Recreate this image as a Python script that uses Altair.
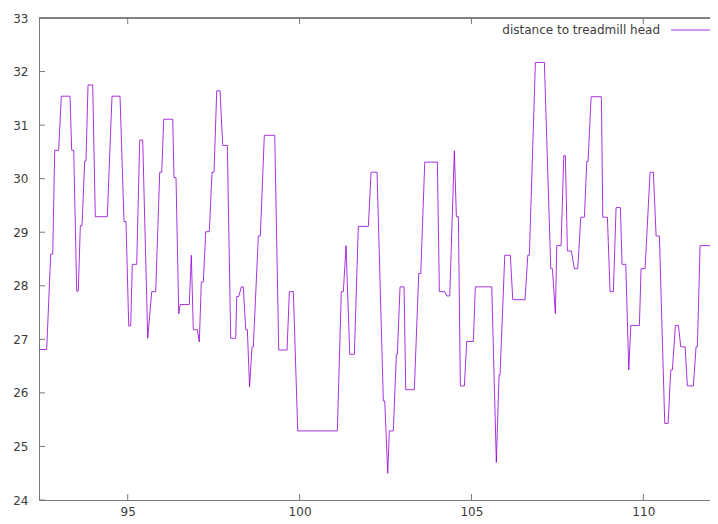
import altair as alt
import pandas as pd

# time (x) values
x_vals = [
    92.43, 92.644, 92.76, 92.82, 92.877, 92.993, 93.069, 93.322, 93.371, 93.43,
    93.517, 93.563, 93.622, 93.671, 93.75, 93.787, 93.846, 93.982, 94.058, 94.407,
    94.544, 94.777, 94.893, 94.951, 95.03, 95.088, 95.135, 95.263, 95.35, 95.437,
    95.583, 95.699, 95.815, 95.932, 95.99, 96.048, 96.31, 96.348, 96.406, 96.485,
    96.531, 96.793, 96.851, 96.909, 97.026, 97.084, 97.142, 97.2, 97.27, 97.375,
    97.453, 97.512, 97.59, 97.686, 97.765, 97.899, 97.997, 98.143, 98.172, 98.23,
    98.306, 98.364, 98.434, 98.481, 98.545, 98.617, 98.655, 98.801, 98.859, 98.975,
    99.278, 99.394, 99.636, 99.703, 99.819, 99.947, 101.099, 101.215, 101.274, 101.352,
    101.46, 101.594, 101.71, 102.001, 102.08, 102.254, 102.437, 102.478, 102.565, 102.612,
    102.728, 102.816, 102.845, 102.923, 103.04, 103.089, 103.339, 103.467, 103.526, 103.642,
    104.009, 104.067, 104.224, 104.282, 104.369, 104.503, 104.562, 104.62, 104.678, 104.794,
    104.864, 105.056, 105.114, 105.591, 105.725, 105.804, 105.833, 105.97, 106.132, 106.202,
    106.56, 106.639, 106.685, 106.86, 107.122, 107.308, 107.355, 107.442, 107.483, 107.608,
    107.686, 107.733, 107.791, 107.907, 107.994, 108.093, 108.181, 108.286, 108.355, 108.393,
    108.481, 108.78, 108.821, 108.955, 109.033, 109.129, 109.208, 109.333, 109.382, 109.49,
    109.577, 109.636, 109.886, 109.935, 110.052, 110.197, 110.293, 110.372, 110.468, 110.624,
    110.721, 110.799, 110.846, 110.933, 111.021, 111.09, 111.216, 111.282, 111.457, 111.535,
    111.573, 111.652, 112.079, 112.138,
]

# distance to treadmill head (y) values
y_vals = [
    26.81, 26.81, 28.59, 28.59, 30.53, 30.53, 31.54, 31.54, 30.53, 30.53,
    27.90, 27.90, 29.12, 29.12, 30.33, 30.33, 31.75, 31.75, 29.29, 29.29,
    31.54, 31.54, 29.20, 29.20, 27.25, 27.25, 28.40, 28.40, 30.72, 30.72,
    27.02, 27.89, 27.89, 30.12, 30.12, 31.11, 31.11, 30.02, 30.02, 27.48,
    27.65, 27.65, 28.57, 27.18, 27.18, 26.95, 28.07, 28.07, 29.01, 29.01,
    30.12, 30.12, 31.64, 31.64, 30.62, 30.62, 27.02, 27.02, 27.80, 27.80,
    27.98, 27.98, 27.18, 27.18, 26.11, 26.86, 26.86, 28.93, 28.93, 30.81,
    30.81, 26.80, 26.80, 27.89, 27.89, 25.29, 25.29, 27.89, 27.89, 28.75,
    26.72, 26.72, 29.11, 29.11, 30.12, 30.12, 25.85, 25.85, 24.50, 25.29,
    25.29, 26.72, 26.72, 27.98, 27.98, 26.06, 26.06, 28.23, 28.23, 30.31,
    30.31, 27.89, 27.89, 27.81, 27.81, 30.52, 29.29, 29.29, 26.13, 26.13,
    26.96, 26.96, 27.98, 27.98, 24.70, 26.34, 26.34, 28.57, 28.57, 27.74,
    27.74, 28.57, 28.57, 32.17, 32.17, 28.32, 28.32, 27.48, 28.75, 28.75,
    30.43, 30.43, 28.65, 28.65, 28.32, 28.32, 29.28, 29.28, 30.32, 30.32,
    31.53, 31.53, 29.28, 29.28, 27.89, 27.89, 29.46, 29.46, 28.40, 28.40,
    26.43, 27.26, 27.26, 28.32, 28.32, 30.12, 30.12, 28.93, 28.93, 25.43,
    25.43, 26.43, 26.43, 27.26, 27.26, 26.86, 26.86, 26.13, 26.13, 26.86,
    26.86, 28.75, 28.75, 27.89,
]

x_ticks = [95, 100, 105, 110]
y_ticks = [24, 25, 26, 27, 28, 29, 30, 31, 32, 33]
series_name = "distance to treadmill head"

W, H = 671, 482
X_DOMAIN = [92.42, 111.94]
Y_DOMAIN = [24, 33]
LINE_COLOR = "#9400d3"
AXIS_COLOR = "#7a7a7a"
TEXT_COLOR = "#3c3c3c"
FONT = "DejaVu Sans"

df = pd.DataFrame({"x": x_vals, "y": y_vals})
xt = pd.DataFrame({"x": x_ticks})
yt = pd.DataFrame({"y": y_ticks})

xscale = alt.Scale(domain=X_DOMAIN, nice=False, zero=False)
yscale = alt.Scale(domain=Y_DOMAIN, nice=False, zero=False)
xaxis = alt.Axis(values=x_ticks, title=None, grid=False, ticks=False,
                 labelPadding=6, domainColor=AXIS_COLOR, format="d")
yaxis = alt.Axis(values=y_ticks, title=None, grid=False, ticks=False,
                 labelPadding=11, domainColor=AXIS_COLOR, format="d")

line = alt.Chart(df).mark_line(color=LINE_COLOR, strokeWidth=1, opacity=0.8, clip=True).encode(
    x=alt.X("x:Q", scale=xscale, axis=xaxis),
    y=alt.Y("y:Q", scale=yscale, axis=yaxis),
)

xt_bottom = alt.Chart(xt).mark_rule(color=AXIS_COLOR, strokeWidth=1).encode(
    x=alt.X("x:Q", scale=xscale, axis=xaxis),
    y=alt.value(H), y2=alt.value(H - 6),
)
xt_top = alt.Chart(xt).mark_rule(color=AXIS_COLOR, strokeWidth=1).encode(
    x=alt.X("x:Q", scale=xscale, axis=xaxis),
    y=alt.value(0), y2=alt.value(6),
)
yt_left = alt.Chart(yt).mark_rule(color=AXIS_COLOR, strokeWidth=1).encode(
    y=alt.Y("y:Q", scale=yscale, axis=yaxis),
    x=alt.value(0), x2=alt.value(6),
)
top_border = alt.Chart(xt).mark_rule(color=AXIS_COLOR, strokeWidth=1).encode(
    x=alt.value(0), x2=alt.value(W), y=alt.value(0),
)

legend_text = alt.Chart(pd.DataFrame({"label": [series_name]})).mark_text(
    align="right", baseline="middle", font=FONT, fontSize=12, color=TEXT_COLOR
).encode(text="label:N", x=alt.value(621), y=alt.value(12))
legend_line = alt.Chart(pd.DataFrame({"label": [series_name]})).mark_rule(
    color=LINE_COLOR, strokeWidth=1, opacity=0.8
).encode(x=alt.value(632), x2=alt.value(671), y=alt.value(12))

chart = alt.layer(
    line, xt_bottom, xt_top, yt_left, top_border, legend_text, legend_line
).properties(
    width=W, height=H,
    autosize=alt.AutoSizeParams(type="none"),
    padding={"left": 31, "top": 10, "right": 0, "bottom": 20},
    background="white",
).configure_view(stroke=None).configure_axis(
    labelFont=FONT, labelFontSize=12, labelColor=TEXT_COLOR
)

chart.save("out.html", embed_options={"renderer": "svg", "actions": False})
